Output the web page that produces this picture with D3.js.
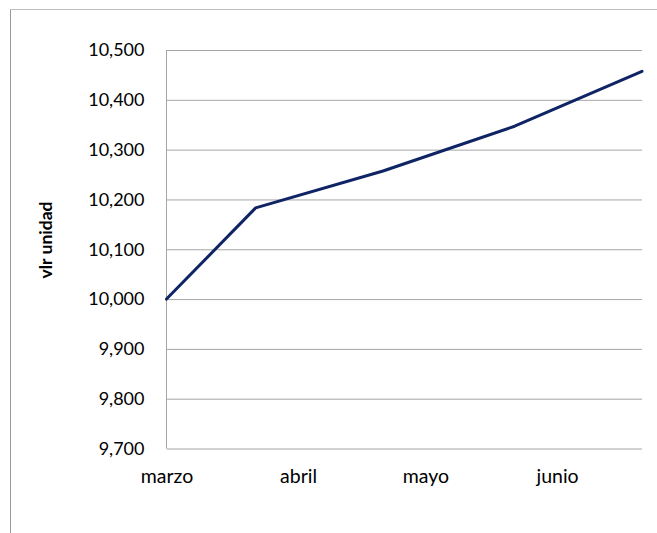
<!DOCTYPE html>
<html>
<head>
<meta charset="utf-8">
<script src="https://cdn.jsdelivr.net/npm/d3@7"></script>
<style>
  html, body { margin: 0; padding: 0; background: #fff; }
  svg { display: block; }
  text { font-family: Lato, "Open Sans", sans-serif; fill: #000; }
</style>
</head>
<body>
<svg id="chart" width="657" height="533"></svg>
<script>
// Unit value by observation date
const dates = ["2011-03-01", "2011-03-22", "2011-04-21", "2011-05-22", "2011-06-21"];
const values = [10000, 10183, 10257, 10347, 10457];
const yTicks = [9700, 9800, 9900, 10000, 10100, 10200, 10300, 10400, 10500];
const monthNames = ["enero", "febrero", "marzo", "abril", "mayo", "junio",
                    "julio", "agosto", "septiembre", "octubre", "noviembre", "diciembre"];
const yTitle = "vlr unidad";

const parse = d3.utcParse("%Y-%m-%d");
const data = dates.map((d, i) => ({ date: parse(d), value: values[i] }));

const svg = d3.select("#chart");
const W = 657, H = 533;
const plot = { left: 166.5, right: 642, top: 50, bottom: 448.5 };

// outer chart frame (only left and top edges fall inside the window)
svg.append("line").attr("x1", 10.5).attr("x2", 10.5).attr("y1", 9.5).attr("y2", H)
  .attr("stroke", "#999").attr("stroke-width", 1);
svg.append("line").attr("x1", 10).attr("x2", W).attr("y1", 9.5).attr("y2", 9.5)
  .attr("stroke", "#bcbcbc").attr("stroke-width", 1);

const x = d3.scaleUtc()
  .domain(d3.extent(data, d => d.date))
  .range([plot.left, plot.right]);

const y = d3.scaleLinear()
  .domain([yTicks[0], yTicks[yTicks.length - 1]])
  .range([plot.bottom, plot.top]);

const fmt = d3.format(",");

// horizontal gridlines + y labels
const yAxis = d3.axisLeft(y)
  .tickValues(yTicks)
  .tickSize(-(plot.right - plot.left))
  .tickPadding(22)
  .tickFormat(fmt);

const gy = svg.append("g")
  .attr("transform", `translate(${plot.left},0)`)
  .call(yAxis);
gy.select(".domain").remove();
gy.selectAll(".tick line").attr("stroke", "#a6a6a6").attr("stroke-width", 1);
gy.selectAll(".tick text")
  .style("font-size", "18px")
  .attr("fill", "#000");

// vertical axis line
svg.append("line")
  .attr("x1", plot.left).attr("x2", plot.left)
  .attr("y1", plot.top).attr("y2", plot.bottom)
  .attr("stroke", "#a6a6a6").attr("stroke-width", 1);

// month labels on the date axis
const xAxis = d3.axisBottom(x)
  .ticks(d3.utcMonth.every(1))
  .tickSize(0)
  .tickPadding(21)
  .tickFormat(d => monthNames[d.getUTCMonth()]);

const gx = svg.append("g")
  .attr("transform", `translate(0,${plot.bottom})`)
  .call(xAxis);
gx.select(".domain").remove();
gx.selectAll(".tick text")
  .style("font-size", "19.5px")
  .attr("fill", "#000");

// y axis title
svg.append("text")
  .attr("transform", `translate(52,240) rotate(-90)`)
  .attr("text-anchor", "middle")
  .style("font-size", "17.5px")
  .style("font-weight", "bold")
  .text(yTitle);

// value line
const line = d3.line()
  .x(d => x(d.date))
  .y(d => y(d.value));

svg.append("path")
  .datum(data)
  .attr("d", line)
  .attr("fill", "none")
  .attr("stroke", "#0e2464")
  .attr("stroke-width", 3)
  .attr("stroke-linejoin", "round")
  .attr("stroke-linecap", "round");
</script>
</body>
</html>
